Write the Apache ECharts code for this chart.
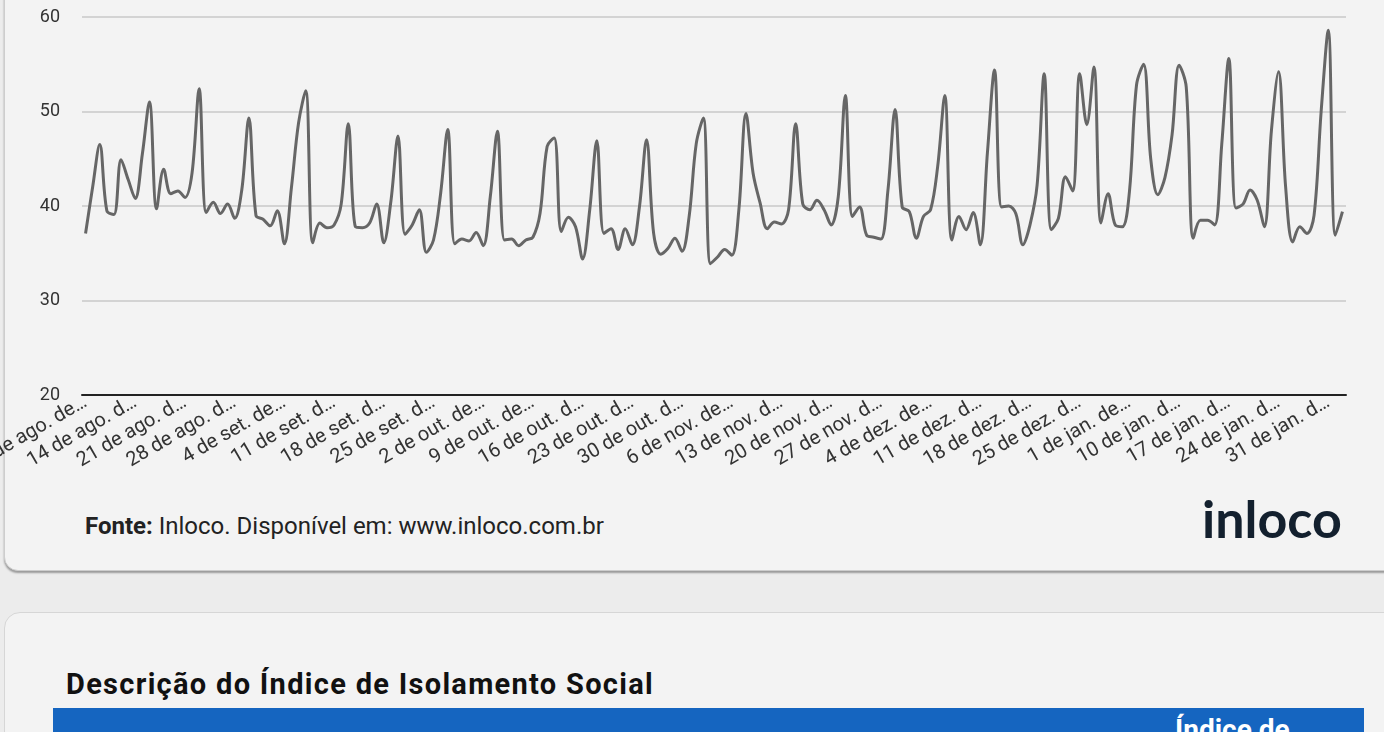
<!DOCTYPE html>
<html>
<head>
<meta charset="utf-8">
<script src="https://cdn.jsdelivr.net/npm/echarts@6/dist/echarts.min.js"></script>
<style>
html,body{margin:0;padding:0;width:1384px;height:732px;overflow:hidden;background:#ececec;font-family:Roboto,sans-serif;}
#card1{position:absolute;left:4px;top:-40px;width:1420px;height:609px;background:#f3f3f3;border:1px solid #cdcdcd;border-radius:14px;box-shadow:0 2px 2px rgba(0,0,0,0.35);}
#card2{position:absolute;left:4px;top:612px;width:1420px;height:200px;background:#f3f3f3;border:1px solid #d6d6d6;border-radius:16px;}
#chart{position:absolute;left:0;top:0;width:1384px;height:500px;}
#fonte{position:absolute;left:85px;top:514px;font-size:24px;line-height:1;color:#222;white-space:nowrap;}
#logo{position:absolute;left:1202px;top:492px;font-size:52px;line-height:1;font-weight:700;color:#13202e;font-family:Lato,sans-serif;white-space:nowrap;}
#title{position:absolute;left:66px;top:670px;font-size:29px;line-height:1;letter-spacing:1.3px;font-weight:700;color:#111;white-space:nowrap;}
#thead{position:absolute;left:53px;top:708px;width:1311px;height:40px;background:#1565c0;}
#thead span{position:absolute;left:1122px;top:8px;color:#fff;font-weight:700;font-size:28px;line-height:1;white-space:nowrap;}
</style>
</head>
<body>
<div id="card1"></div>
<div id="card2"></div>
<div id="fonte"><b>Fonte:</b> Inloco. Disponível em: www.inloco.com.br</div>
<div id="logo">inloco</div>
<div id="title">Descrição do Índice de Isolamento Social</div>
<div id="thead"><span>Índice de</span></div>
<div id="chart"></div>
<script>
// Índice de isolamento social (%), one value per day
const values = [
 37.1,42.0,46.5,39.5,39.1,44.9,42.8,40.8,45.5,51.0,
 39.7,43.9,41.3,41.6,40.9,43.5,52.4,39.3,40.4,39.2,
 40.2,38.7,41.7,49.3,39.0,38.6,37.9,39.5,36.0,42.0,
 48.8,52.2,36.1,38.2,37.7,38.0,40.2,48.7,37.8,37.7,
 38.2,40.2,36.1,40.5,47.4,37.0,38.0,39.6,35.1,36.4,
 41.3,48.1,36.0,36.5,36.3,37.2,35.8,41.0,47.9,36.4,
 36.5,35.8,36.4,36.7,39.2,46.3,47.2,37.3,38.8,37.8,
 34.4,39.6,46.9,37.1,37.6,35.4,37.6,35.9,39.9,47.0,
 37.1,34.9,35.5,36.6,35.2,38.9,46.6,49.3,33.9,34.6,
 35.4,34.8,39.6,49.8,43.5,40.3,37.6,38.3,38.1,39.6,
 48.7,40.2,39.6,40.6,39.6,38.0,41.0,51.7,38.9,39.9,
 36.9,36.7,36.5,41.7,50.2,39.9,39.4,36.6,38.9,39.6,
 44.2,51.7,36.4,38.9,37.5,39.3,35.9,45.6,54.4,39.9,
 40.0,39.2,35.9,38.0,42.2,54.0,37.5,38.7,43.1,41.6,
 54.0,48.6,54.7,38.2,41.3,38.0,37.8,41.5,52.8,55.0,
 45.0,41.2,43.0,47.5,54.9,52.6,36.6,38.5,38.5,38.0,
 46.5,55.6,39.8,40.2,41.7,40.6,37.8,48.0,54.2,42.0,
 36.2,37.8,37.1,39.0,50.0,58.6,36.9,39.4
];
// Date categories (Portuguese), first day and days absent from the source
const monthNames = ['jan.','fev.','mar.','abr.','mai.','jun.','jul.','ago.','set.','out.','nov.','dez.'];
const firstDay = [2020, 7, 7];
const missingDays = ['2021-01-05','2021-01-06'];
const yTicks = [20, 30, 40, 50, 60];

const categories = [];
let t = Date.UTC(firstDay[0], firstDay[1], firstDay[2]);
while (categories.length < values.length) {
  const d = new Date(t);
  const iso = d.toISOString().slice(0,10);
  if (missingDays.indexOf(iso) < 0) {
    categories.push(d.getUTCDate() + ' de ' + monthNames[d.getUTCMonth()] + ' de ' + d.getUTCFullYear());
  }
  t += 86400000;
}

const chart = echarts.init(document.getElementById('chart'), null, {renderer:'canvas'});
chart.setOption({
  animation:false,
  grid:{left:82,right:38,top:17,bottom:105,containLabel:false,outerBoundsMode:'none'},
  xAxis:{
    type:'category', data:categories, boundaryGap:true,
    axisLine:{lineStyle:{color:'#222',width:2}},
    axisTick:{show:false},
    axisLabel:{interval:6, rotate:30, fontSize:20, color:'#333', fontFamily:'Roboto', margin:6,
      formatter:function(v){ return v.length > 12 ? v.slice(0,12) + '…' : v; }}
  },
  yAxis:{
    type:'value', min:yTicks[0], max:yTicks[yTicks.length-1], interval:yTicks[1]-yTicks[0],
    axisLine:{show:false}, axisTick:{show:false},
    axisLabel:{fontSize:18, color:'#333', margin:22, fontFamily:'Roboto'},
    splitLine:{lineStyle:{color:'#d3d3d3', width:2}}
  },
  series:[{
    type:'line', data:values, smooth:0.35, showSymbol:false, symbol:'none',
    lineStyle:{color:'#666', width:3}
  }]
});
</script>
</body>
</html>
